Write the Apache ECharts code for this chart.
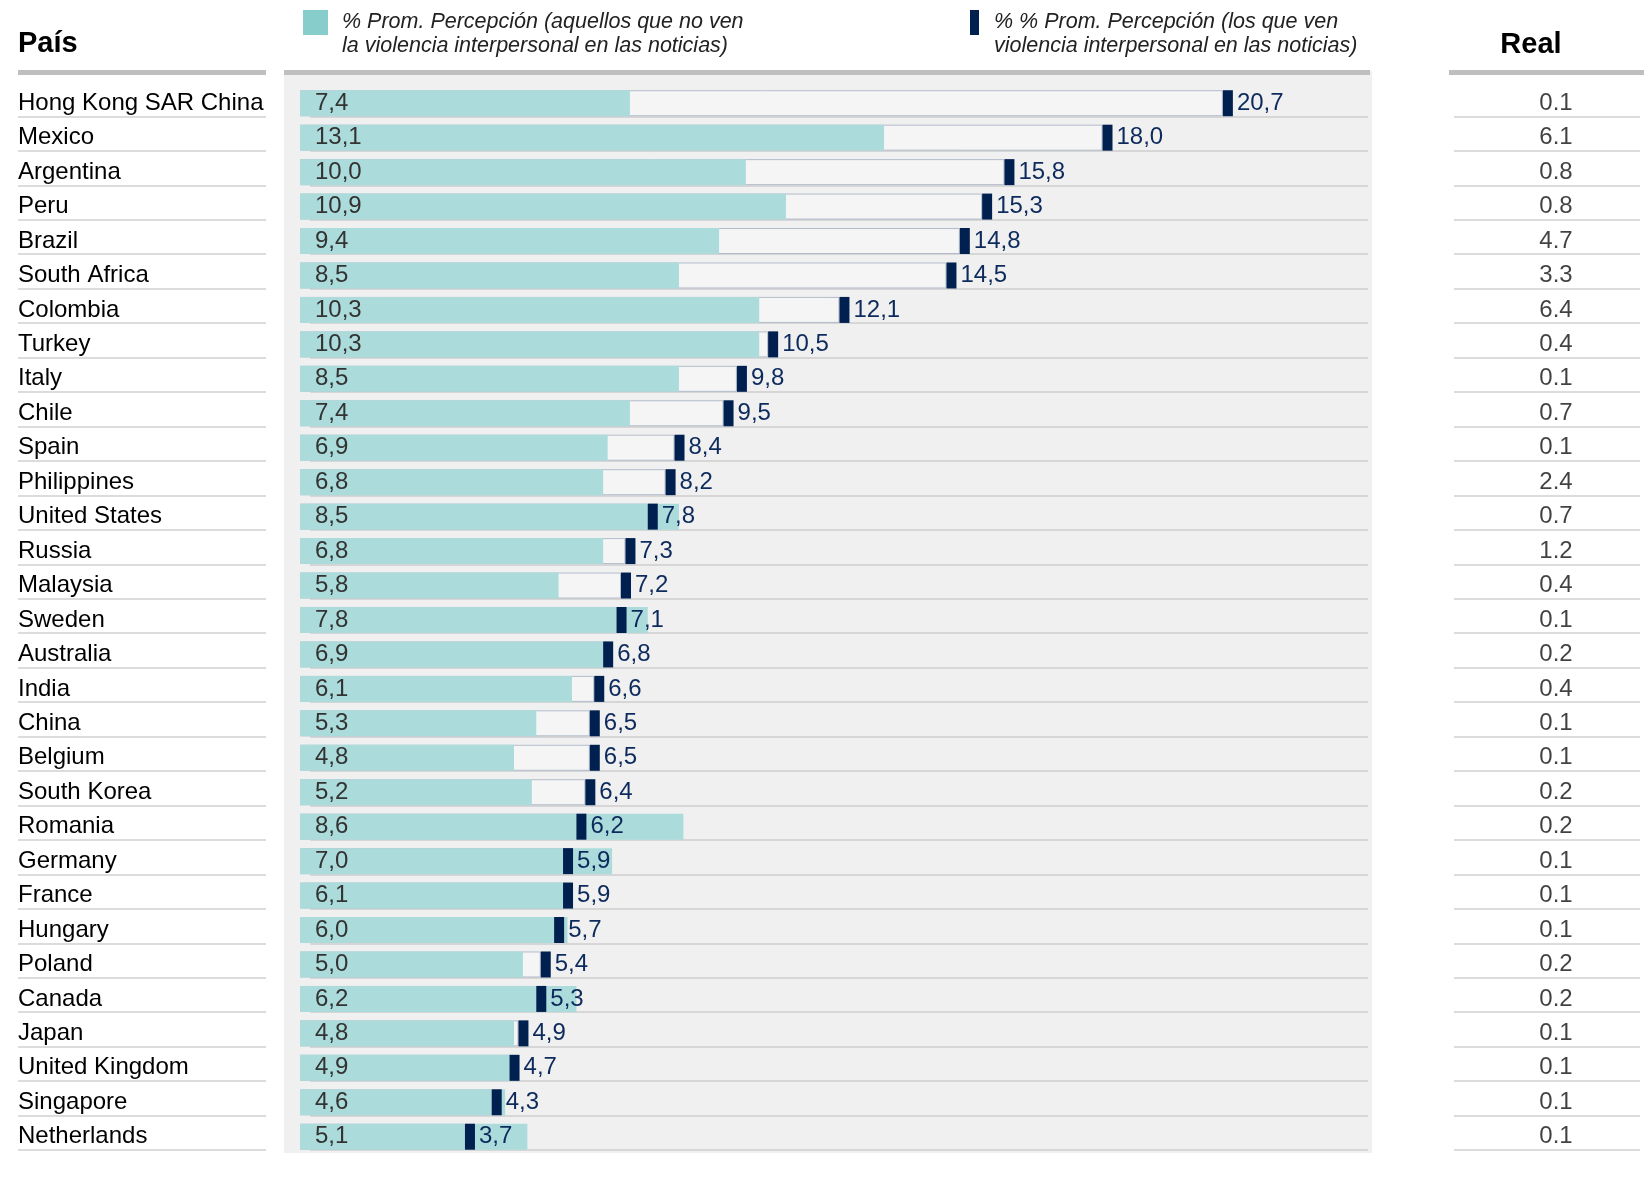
<!DOCTYPE html>
<html><head><meta charset="utf-8">
<script src="https://cdn.jsdelivr.net/npm/echarts@6/dist/echarts.min.js"></script>
<style>html,body{margin:0;padding:0;background:#fff}#c{width:1652px;height:1180px}</style>
</head><body><div id="c"></div>
<script>
const countries = ["Hong Kong SAR China","Mexico","Argentina","Peru","Brazil","South Africa","Colombia","Turkey","Italy","Chile","Spain","Philippines","United States","Russia","Malaysia","Sweden","Australia","India","China","Belgium","South Korea","Romania","Germany","France","Hungary","Poland","Canada","Japan","United Kingdom","Singapore","Netherlands"];
const percNoNews = [7.4,13.1,10.0,10.9,9.4,8.5,10.3,10.3,8.5,7.4,6.9,6.8,8.5,6.8,5.8,7.8,6.9,6.1,5.3,4.8,5.2,8.6,7.0,6.1,6.0,5.0,6.2,4.8,4.9,4.6,5.1];
const percNews = [20.7,18.0,15.8,15.3,14.8,14.5,12.1,10.5,9.8,9.5,8.4,8.2,7.8,7.3,7.2,7.1,6.8,6.6,6.5,6.5,6.4,6.2,5.9,5.9,5.7,5.4,5.3,4.9,4.7,4.3,3.7];
const realValues = [0.1,6.1,0.8,0.8,4.7,3.3,6.4,0.4,0.1,0.7,0.1,2.4,0.7,1.2,0.4,0.1,0.2,0.4,0.1,0.1,0.2,0.2,0.1,0.1,0.1,0.2,0.2,0.1,0.1,0.1,0.1];
const legendNoNews = ["% Prom. Percepción (aquellos que no ven","la violencia interpersonal en las noticias)"];
const legendNews = ["% % Prom. Percepción (los que ven","violencia interpersonal en las noticias)"];
const headerCountry = "País";
const headerReal = "Real";

const FONT = "'Liberation Sans', Arial, sans-serif";
const N = countries.length;
const ROW_TOP = 86, ROW_H = 34.45;
const H = N * ROW_H;
const SEP_OFF = 4;
const comma = v => v.toFixed(1).replace('.', ',');

const chart = echarts.init(document.getElementById('c'), null, {renderer: 'canvas'});

const grids = [
  {left: 18, width: 248, top: ROW_TOP, height: H},                 // 0 labels
  {left: 300, width: 1070, top: ROW_TOP, height: H},               // 1 bars
  {left: 1463, width: 186, top: ROW_TOP, height: H},               // 2 real
  {left: 18, width: 248, top: ROW_TOP + ROW_H - SEP_OFF, height: (N - 1) * ROW_H},   // 3 sep labels
  {left: 310, width: 1058, top: ROW_TOP + ROW_H - SEP_OFF, height: (N - 1) * ROW_H}, // 4 sep bars
  {left: 1454, width: 186, top: ROW_TOP + ROW_H - SEP_OFF, height: (N - 1) * ROW_H} // 5 sep real
];

const hiddenX = (gi, max) => ({type: 'value', gridIndex: gi, min: 0, max: max, show: false});
const sepY = (gi, color) => ({
  type: 'category', gridIndex: gi, inverse: true, data: countries.slice(1),
  axisLine: {show: false}, axisTick: {show: false}, axisLabel: {show: false},
  splitLine: {show: true, interval: 0, lineStyle: {color: color, width: 2}}
});

const option = {
  animation: false,
  backgroundColor: '#ffffff',
  textStyle: {fontFamily: FONT},
  grid: grids.map(g => Object.assign({containLabel: false}, g)),
  xAxis: [hiddenX(0, 1), hiddenX(1, 24), hiddenX(2, 1), hiddenX(3, 1), hiddenX(4, 1), hiddenX(5, 1)],
  yAxis: [
    {type: 'category', gridIndex: 0, inverse: true, data: countries,
     axisLine: {show: false}, axisTick: {show: false}, splitLine: {show: false},
     axisLabel: {inside: true, margin: 0, align: 'left', color: '#000', fontSize: 24, fontFamily: FONT}},
    {type: 'category', gridIndex: 1, inverse: true, data: countries, show: false},
    {type: 'category', gridIndex: 2, inverse: true, data: countries, show: false},
    sepY(3, '#dcdcdc'),
    sepY(4, '#d6d6d6'),
    sepY(5, '#dcdcdc')
  ],
  graphic: [
    {type: 'rect', z: -10, shape: {x: 284, y: 71, width: 1088, height: 1082}, style: {fill: '#f0f0f0'}},
    {type: 'rect', z: 1, shape: {x: 284, y: 70, width: 1086, height: 5}, style: {fill: '#bfbfbf'}},
    {type: 'rect', z: 1, shape: {x: 18, y: 70, width: 248, height: 5}, style: {fill: '#bfbfbf'}},
    {type: 'rect', z: 1, shape: {x: 1449, y: 70, width: 195, height: 5}, style: {fill: '#bfbfbf'}},
    {type: 'text', x: 18, y: 44, style: {text: headerCountry, fill: '#000', font: 'bold 29px ' + FONT, textVerticalAlign: 'middle'}},
    {type: 'text', x: 1531, y: 45, style: {text: headerReal, fill: '#000', font: 'bold 29px ' + FONT, textAlign: 'center', textVerticalAlign: 'middle'}},
    {type: 'rect', shape: {x: 303, y: 10, width: 25, height: 25}, style: {fill: '#86cdcc'}},
    {type: 'text', x: 342, y: 22, style: {text: legendNoNews[0], fill: '#222', font: 'italic 21.5px ' + FONT, textVerticalAlign: 'middle'}},
    {type: 'text', x: 342, y: 46, style: {text: legendNoNews[1], fill: '#222', font: 'italic 21.5px ' + FONT, textVerticalAlign: 'middle'}},
    {type: 'rect', shape: {x: 970, y: 10, width: 9, height: 25}, style: {fill: '#002050'}},
    {type: 'text', x: 994, y: 22, style: {text: legendNews[0], fill: '#222', font: 'italic 21.5px ' + FONT, textVerticalAlign: 'middle'}},
    {type: 'text', x: 994, y: 46, style: {text: legendNews[1], fill: '#222', font: 'italic 21.5px ' + FONT, textVerticalAlign: 'middle'}}
  ],
  series: [
    {type: 'bar', xAxisIndex: 1, yAxisIndex: 1, data: percNews, barWidth: 26, barGap: '-100%', z: 2,
     itemStyle: {color: '#f5f5f5', borderColor: '#b4bccb', borderWidth: 1}, silent: true},
    {type: 'bar', xAxisIndex: 1, yAxisIndex: 1, data: percNoNews, barWidth: 26, barGap: '-100%', z: 3,
     itemStyle: {color: '#acdbdb'},
     label: {show: true, position: 'insideLeft', distance: 15, color: '#333', fontSize: 24, fontFamily: FONT,
             formatter: p => comma(p.value)}},
    {type: 'scatter', xAxisIndex: 1, yAxisIndex: 1, z: 5,
     data: percNews.map((v, i) => [v, i]),
     symbol: 'rect', symbolSize: [10, 26], symbolOffset: [5, 0],
     itemStyle: {color: '#002050', opacity: 1},
     label: {show: true, position: 'right', distance: 4, color: '#0d2a5c', fontSize: 24, fontFamily: FONT,
             formatter: p => comma(p.value[0])}},
    {type: 'scatter', xAxisIndex: 2, yAxisIndex: 2, z: 5,
     data: realValues.map((v, i) => [0.5, i, v]),
     symbolSize: 1, itemStyle: {color: 'rgba(0,0,0,0)'},
     label: {show: true, position: 'inside', color: '#111', fontSize: 24, fontFamily: FONT,
             formatter: p => p.value[2].toFixed(1)}}
  ]
};
chart.setOption(option);
</script></body></html>
